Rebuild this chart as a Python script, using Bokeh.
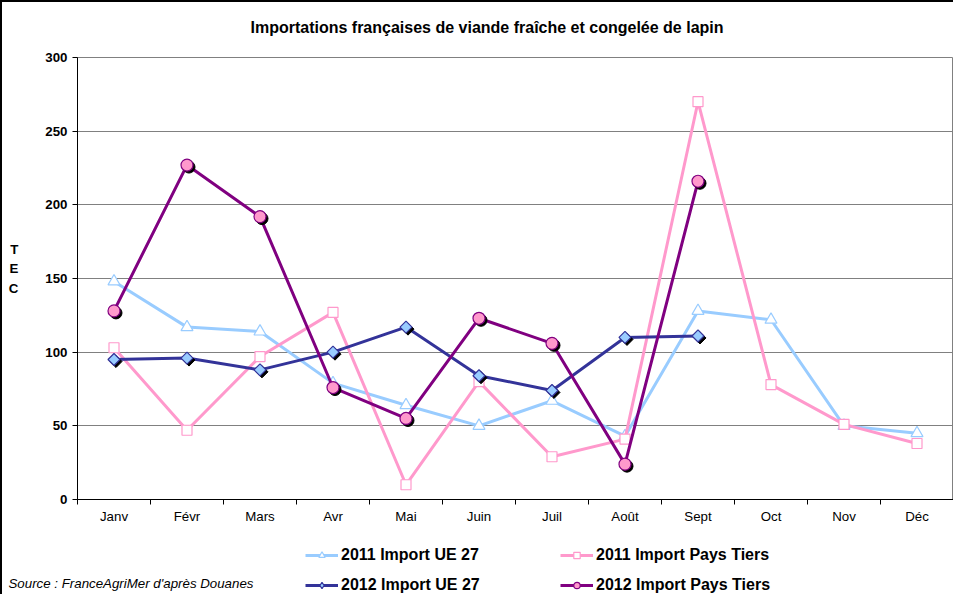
from bokeh.plotting import figure
from bokeh.models import (ColumnDataSource, Range1d, FixedTicker, Label, Legend, LegendItem)
from bokeh.layouts import column
from bokeh.transform import dodge
from bokeh.embed import file_html
from bokeh.resources import INLINE

# ---------------- data ----------------
months = ["Janv", "Févr", "Mars", "Avr", "Mai", "Juin", "Juil", "Août", "Sept", "Oct", "Nov", "Déc"]
ue_2011 = [148, 117, 114, 79, 64, 50, 67, 43, 128, 122, 50, 45]
pt_2011 = [103, 47, 97, 127, 10, 80, 29, 41, 270, 78, 51, 38]
ue_2012 = [95, 96, 88, 100, 117, 84, 74, 110, 111]
pt_2012 = [128, 227, 192, 76, 55, 123, 106, 24, 216]
y_ticks = [0, 50, 100, 150, 200, 250, 300]
title_text = "Importations françaises de viande fraîche et congelée de lapin"
y_title = "T\nE\nC\n"
source_text = "Source : FranceAgriMer d'après Douanes"
names = ["2011 Import UE 27", "2011 Import Pays Tiers", "2012 Import UE 27", "2012 Import Pays Tiers"]

# ---------------- layout ----------------
W = 951
HH, HM, HF = 45, 485, 62          # header, main, footer heights
FL, FR = 75, 951                  # frame left / right
FT, FB = 10, 452                  # frame top / bottom inside main figure
X0, X1 = -0.5, len(months) - 0.5
Y0, Y1 = 0, 300
XS = (FR - FL) / (X1 - X0)
YS = (FB - FT) / (Y1 - Y0)

FONT = "Liberation Sans"
LB, PK, DB, PU = "#99CCFF", "#FF99CC", "#333399", "#800080"

def blank(h):
    f = figure(width=W, height=h, output_backend="svg", toolbar_location=None, title=None,
               x_range=Range1d(0, W), y_range=Range1d(h, 0),
               x_axis_type=None, y_axis_type=None,
               min_border_left=0, min_border_right=0, min_border_top=0, min_border_bottom=0)
    f.grid.visible = False
    f.outline_line_color = None
    f.background_fill_color = "white"
    f.border_fill_color = "white"
    try:
        f.frame_align = False
    except Exception:
        pass
    return f

# ---- header with title
ph = blank(HH)
ph.add_layout(Label(x=484.5, y=25, text=title_text, text_align="center",
                    text_baseline="alphabetic", text_font=FONT, text_font_size="16px",
                    text_font_style="bold", text_color="black"))

# ---- main chart
p = figure(width=W, height=HM, output_backend="svg", toolbar_location=None, title=None,
           x_range=Range1d(X0, X1), y_range=Range1d(Y0, Y1),
           min_border_left=FL, min_border_top=FT, min_border_right=W - FR,
           min_border_bottom=HM - FB)
p.outline_line_color = "#808080"
p.outline_line_width = 1
p.background_fill_color = "white"
p.border_fill_color = "white"

xs = list(range(len(months)))
p.xaxis.ticker = FixedTicker(ticks=xs, minor_ticks=[i - 0.5 for i in range(len(months) + 1)])
p.xaxis.major_label_overrides = {i: m for i, m in enumerate(months)}
p.xaxis.major_tick_out = 0
p.xaxis.major_tick_in = 0
p.xaxis.minor_tick_out = 5
p.xaxis.minor_tick_in = 0
p.xaxis.minor_tick_line_color = "black"
p.xaxis.axis_line_color = "black"
p.xaxis.major_label_text_font = FONT
p.xaxis.major_label_text_font_size = "13.3px"
p.xaxis.major_label_text_color = "black"
p.xaxis.major_label_standoff = 4

p.yaxis.ticker = FixedTicker(ticks=y_ticks)
p.yaxis.minor_tick_line_color = None
p.yaxis.major_tick_out = 5
p.yaxis.major_tick_in = 0
p.yaxis.major_tick_line_color = "black"
p.yaxis.axis_line_color = "black"
p.yaxis.major_label_text_font = FONT
p.yaxis.major_label_text_font_size = "13.3px"
p.yaxis.major_label_text_font_style = "bold"
p.yaxis.major_label_text_color = "black"
p.yaxis.major_label_standoff = 5
p.yaxis.axis_label = y_title
p.yaxis.axis_label_orientation = "horizontal"
p.yaxis.axis_label_text_font = FONT
p.yaxis.axis_label_text_font_size = "13.3px"
p.yaxis.axis_label_text_font_style = "bold"
p.yaxis.axis_label_text_color = "black"
p.yaxis.axis_label_text_line_height = 1.29
p.yaxis.axis_label_standoff = 24

p.xgrid.grid_line_color = None
p.ygrid.grid_line_color = "#808080"
p.ygrid.grid_line_width = 1

SHX = 2 / XS
SHY = -2 / YS
DIAMOND_ANGLE = 0.785398

# (values, colour, marker, size, fill, shadow, angle, legend marker, legend size)
specs = [
    (ue_2011, LB, "triangle", 12, "white", False, 0.0, "triangle", 12),
    (pt_2011, PK, "square", 10, "white", False, 0.0, "square", 10),
    (ue_2012, DB, "square", 8.5, LB, True, DIAMOND_ANGLE, "diamond", 14),
    (pt_2012, PU, "circle", 12, PK, True, 0.0, "circle", 12),
]

for vals, color, marker, size, fill, shadow, ang, _, _ in specs:
    src = ColumnDataSource(dict(x=list(range(len(vals))), y=vals))
    p.line("x", "y", source=src, line_color=color, line_width=3)
    if shadow:
        p.scatter(dodge("x", SHX), dodge("y", SHY), source=src, marker=marker, size=size,
                  angle=ang, fill_color="black", line_color="black")
    p.scatter("x", "y", source=src, marker=marker, size=size, angle=ang, fill_color=fill,
              line_color=color, line_width=1.2)

# ---- footer with legend and source
pf = blank(HF)
items = []
for (vals, color, marker, size, fill, shadow, ang, lmarker, lsize), name in zip(specs, names):
    ln = pf.line([-50, -40], [-50, -50], line_color=color, line_width=3)
    mk = pf.scatter([-50], [-50], marker=lmarker, size=lsize, fill_color=fill,
                    line_color=color, line_width=1.2)
    items.append(LegendItem(label=name, renderers=[ln, mk]))

lg = Legend(items=[items[0], items[2], items[1], items[3]],
            ncols=2, nrows=2, orientation="vertical", location=(303, 0),
            glyph_width=33, glyph_height=16, label_height=16, label_width=207, spacing=12,
            padding=0, margin=0, label_standoff=3,
            border_line_alpha=0, background_fill_alpha=0,
            label_text_font=FONT, label_text_font_size="16px",
            label_text_font_style="bold", label_text_color="black")
pf.add_layout(lg)
pf.add_layout(Label(x=6, y=51, text=source_text, text_align="left",
                    text_baseline="alphabetic", text_font=FONT, text_font_size="13.3px",
                    text_font_style="italic", text_color="black"))

layout = column(ph, p, pf, spacing=0)
layout.styles = {"border-top": "2px solid black", "border-left": "2px solid black"}

open("out.html", "w").write(file_html(layout, INLINE))
